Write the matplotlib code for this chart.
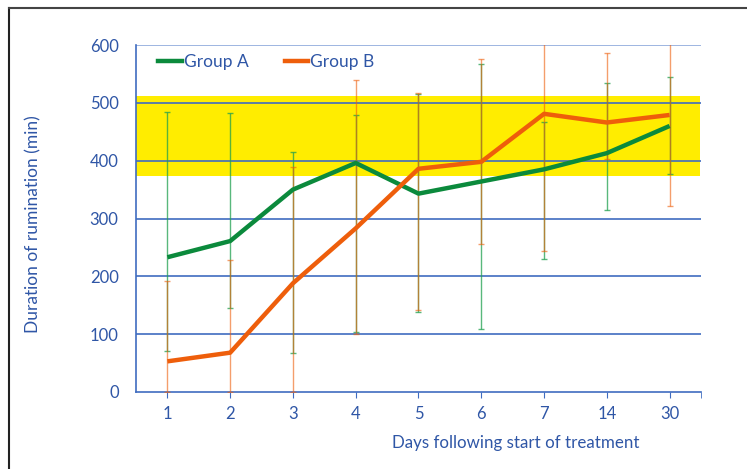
import matplotlib
matplotlib.use("Agg")
import matplotlib.pyplot as plt
from matplotlib.lines import Line2D
import numpy as np

days = ["1", "2", "3", "4", "5", "6", "7", "14", "30"]
group_a = [233, 261, 350, 396, 343, 364, 385, 413, 460]
group_b = [53, 68, 188, 283, 386, 398, 481, 466, 479]
a_low = [71, 146, 67, 103, 138, 109, 230, 315, 377]
a_high = [484, 482, 415, 479, 515, 568, 467, 535, 544]
b_low = [0, 0, 0, 101, 141, 256, 244, 403, 322]
b_high = [192, 228, 389, 540, 517, 575, 620, 586, 620]
band = [374, 512]

TXT = "#2F56A6"
GREEN = "#0B8A3C"
ORANGE = "#EE5E0B"
GRID = "#3F6CC0"

plt.rcParams['font.family'] = ['Lato', 'DejaVu Sans']

fig = plt.figure(figsize=(7.47, 4.69), dpi=100)
ax = fig.add_axes([136/747, 1-392/469, (701-136)/747, (392-45)/469])

x = np.arange(len(days))
ax.set_xlim(-0.5, len(days)-0.5)
ax.set_ylim(0, 600)

ax.axhspan(band[0], band[1], xmin=0, xmax=0.998, color="#FFED00", zorder=0, lw=0)

for yv in range(100, 700, 100):
    ax.axhline(yv, color=GRID if yv < 600 else "#8EA9DB", lw=1.2, zorder=1, snap=True)

ga = np.array(group_a); gb = np.array(group_b)
ax.errorbar(x, ga, yerr=[ga-np.array(a_low), np.array(a_high)-ga], fmt='none',
            ecolor="#22A050", elinewidth=1.0, capsize=2.5, capthick=1.0, alpha=0.75, zorder=2)
ax.errorbar(x, gb, yerr=[gb-np.array(b_low), np.array(b_high)-gb], fmt='none',
            ecolor=ORANGE, elinewidth=1.0, capsize=2.5, capthick=1.0, alpha=0.6, zorder=3)

ax.plot(x, ga, color=GREEN, lw=3.2, zorder=4, solid_capstyle='butt')
ax.plot(x, gb, color=ORANGE, lw=3.2, zorder=5, solid_capstyle='butt')

for s in ["top", "right"]:
    ax.spines[s].set_visible(False)
for s in ["left", "bottom"]:
    ax.spines[s].set_color(GRID)
    ax.spines[s].set_linewidth(1.2)

ax.set_xticks(x)
ax.set_xticklabels(days)
ax.set_xticks([len(days)-0.5], minor=True)
ax.tick_params(axis='x', which='both', length=4, color=GRID, colors=TXT, labelsize=12, pad=6)
ax.tick_params(axis='x', which='minor', length=4, color=GRID)
ax.set_yticks(range(0, 700, 100))
ax.tick_params(axis='y', length=0, colors=TXT, labelsize=12, pad=12.5)

ax.set_ylabel("Duration of rumination (min)", color=TXT, fontsize=12.5)
ax.yaxis.set_label_coords(-0.167, 0.485)
ax.set_xlabel("Days following start of treatment", color=TXT, fontsize=12.2)
ax.xaxis.set_label_coords(0.672, -0.125)

handles = [Line2D([0], [0], color=GREEN, lw=3.2), Line2D([0], [0], color=ORANGE, lw=3.2)]
leg = ax.legend(handles, ["Group A", "Group B"], loc="upper left", ncol=2, frameon=False,
                bbox_to_anchor=(0.012, 1.018), handlelength=1.35, handletextpad=0.1,
                columnspacing=2.1, fontsize=12.5, borderaxespad=0.5)
for t in leg.get_texts():
    t.set_color(TXT)

fig.add_artist(Line2D([9/747, 9/747], [0, 1-8/469], color="#222222", lw=1.5, transform=fig.transFigure))
fig.add_artist(Line2D([9/747, 1], [1-8/469, 1-8/469], color="#444444", lw=1.5, transform=fig.transFigure))

fig.savefig("out.png", dpi=100)
